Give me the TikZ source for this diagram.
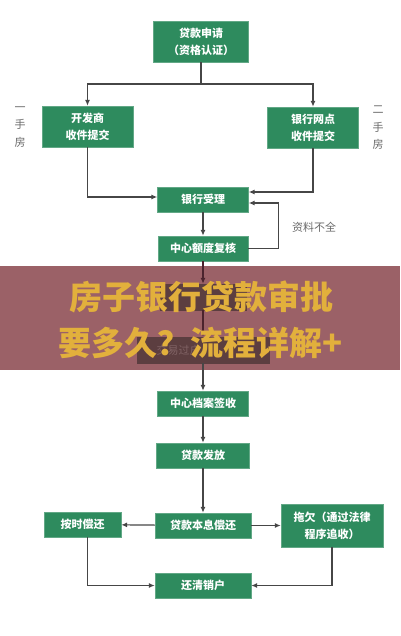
\documentclass[tikz,border=0pt]{standalone}
\usepackage{fontspec}
\newfontfamily\cjk{Noto Sans CJK SC}
\usetikzlibrary{arrows.meta}

\definecolor{boxgreen}{RGB}{46,139,94}
\definecolor{bannerred}{RGB}{155,97,103}
\definecolor{bannergold}{RGB}{226,176,60}
\definecolor{hiddenbox}{RGB}{92,62,64}
\definecolor{hiddentext}{RGB}{128,98,100}
\definecolor{bannerline}{RGB}{75,35,45}
\definecolor{linegray}{RGB}{70,70,70}
\definecolor{labelgray}{RGB}{105,105,105}

\tikzset{
	stepbox/.style={fill=boxgreen, draw=boxgreen!75!white, text=white, inner sep=0pt,
		font=\cjk\bfseries\fontsize{11}{17}\selectfont, align=center, minimum height=25},
	flow/.style={-{Latex[length=6pt,width=5pt]}, linegray, line width=1.2pt},
	plain/.style={linegray, line width=1.2pt},
	sidetext/.style={text=labelgray, font=\cjk\fontsize{11}{17.5}\selectfont, align=center}
}

\begin{document}
\begin{tikzpicture}[x=1pt, y=-1pt]
		\useasboundingbox (0,0) rectangle (400,636);

		% banner behind the hidden steps
		\fill[bannerred]	(0,266) rectangle (400,370);

		% upper part
		\node[stepbox, minimum width=95, minimum height=41] (apply) at (201,41.5) {贷款申请\\（资格认证）};
		\node[stepbox, minimum width=91, minimum height=41] (dev) at (87.5,126.5) {开发商\\收件提交};
		\node[stepbox, minimum width=91, minimum height=41] (bank) at (313,127.5) {银行网点\\收件提交};
		\node[sidetext] (firsthand) at (20,127) {一\\手\\房};
		\node[sidetext] (secondhand) at (378,128) {二\\手\\房};

		\draw[plain]	(apply.south) -- (201,84) coordinate (fork);
		\draw[flow]	(fork) -| (dev.north);
		\draw[flow]	(fork) -| (bank.north);

		\node[stepbox, minimum width=91] (accept) at (203,199.5) {银行受理};
		\node[stepbox, minimum width=90] (check) at (203,248.5) {中心额度复核};

		\draw[flow]	(dev.south) |- ([yshift=2.5pt]accept.west);
		\draw[flow]	(bank.south) |- ([yshift=7.5pt]accept.east);
		\draw[flow]	(accept) -- (check);
		\draw[flow]	(check.east) -- ++(30,0) |- ([yshift=-3.5pt]accept.east);
		\node[sidetext] (missing) at (314,227) {资料不全};

		% steps under the banner
		\node[stepbox, fill=hiddenbox, draw=hiddenbox, minimum width=86, minimum height=26] (review) at (203,297) {};
		\node[stepbox, fill=hiddenbox, draw=hiddenbox, minimum width=132, minimum height=26] (transfer) at (203,350) {};
		\node[anchor=west, text=hiddentext, font=\cjk\fontsize{11}{14}\selectfont] (transfertext) at (153,350) {交易过户};

		\draw[flow, bannerline]	(check) -- (review);
		\draw[flow, bannerline]	(review) -- (transfer);

		% lower part
		\node[stepbox, minimum width=91] (archive) at (203,403.5) {中心档案签收};
		\node[stepbox, minimum width=93] (release) at (203,455.5) {贷款发放};
		\node[stepbox, minimum width=96] (repay) at (203,525.5) {贷款本息偿还};
		\node[stepbox, minimum width=77] (ontime) at (82.5,524.5) {按时偿还};
		\node[stepbox, minimum width=102, minimum height=43] (overdue) at (332,525.5) {拖欠（通过法律\\程序追收）};
		\node[stepbox, minimum width=96] (clear) at (203,585.5) {还清销户};

		\draw[flow]	(transfer) -- (archive);
		\draw[flow]	(archive) -- (release);
		\draw[flow]	(release) -- (repay);
		\draw[flow]	(repay) -- (ontime);
		\draw[flow]	(repay) -- (overdue);
		\draw[flow]	([xshift=5pt]ontime.south) |- (clear);
		\draw[flow]	(overdue.south) |- (clear);

		% banner title
		\node[text=bannergold, font=\cjk\bfseries\fontsize{33}{46}\selectfont, align=center] (title) at (201,320) {房子银行贷款审批\\要多久？流程详解+};
	\end{tikzpicture}
\end{document}
